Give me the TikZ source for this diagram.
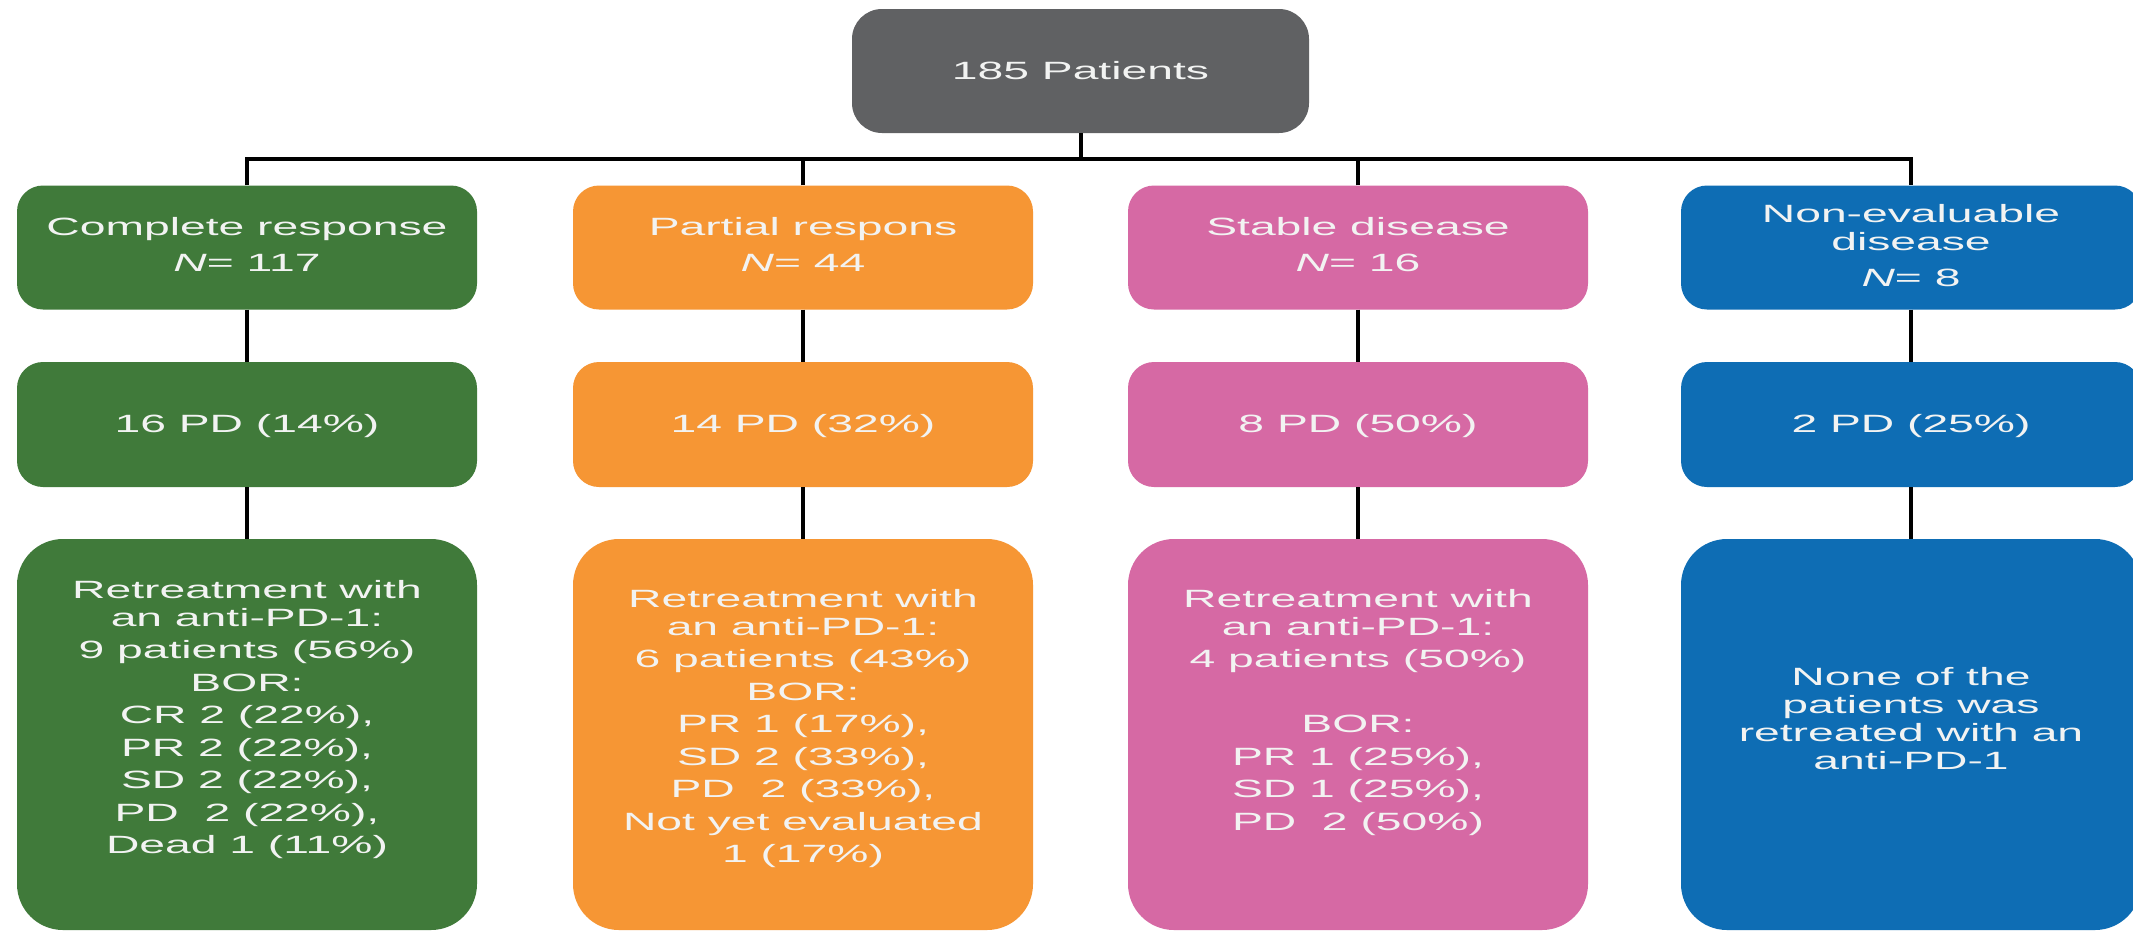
\documentclass[tikz,border=0pt]{standalone}
\usepackage{fontspec}
\setmainfont{Liberation Sans}[FakeStretch=1.85]
\definecolor{cgreen}{RGB}{64,122,58}
\definecolor{corange}{RGB}{246,150,52}
\definecolor{cpink}{RGB}{214,105,164}
\definecolor{cblue}{RGB}{14,109,180}
\definecolor{cgray}{RGB}{96,97,99}
\definecolor{ctext}{RGB}{242,243,242}
\newcommand\tst{\rule{0pt}{20pt}}
\tikzset{
  box/.style={rounded corners=26pt, minimum width=460pt, minimum height=124pt, inner sep=0pt, draw=none},
  bigbox/.style={rounded corners=46pt, minimum width=460pt, minimum height=391pt, inner sep=0pt, draw=none},
  txt/.style={anchor=north, align=center, inner sep=0pt, text=ctext, font=\fontsize{25}{28}\selectfont},
  conn/.style={line width=4pt, black, line join=miter}
}
\begin{document}
\begin{tikzpicture}[x=1pt,y=-1pt]
\fill[white] (0,0) rectangle (2133,932);
\useasboundingbox (0,0) rectangle (2133,932);

% top
\node[box, fill=cgray, minimum width=457pt, rounded corners=30pt] (top) at (1080.5,71) {};
\node[txt] (ttop) at (1080.5,59) {\tst 185 Patients};
\coordinate (bus) at (1080.5,159);

% row 1
\node[box, fill=cgreen]  (g1) at (247,247.5) {};
\node[box, fill=corange] (o1) at (803,247.5) {};
\node[box, fill=cpink]   (p1) at (1358,247.5) {};
\node[box, fill=cblue]   (b1) at (1911,247.5) {};
\node[txt] (tg1) at (247,215) {\tst Complete response\\[8.5pt]\textit{N}= 117};
\node[txt] (to1) at (803,215) {\tst Partial respons\\[8.5pt]\textit{N}= 44};
\node[txt] (tp1) at (1358,215) {\tst Stable disease\\[8.5pt]\textit{N}= 16};
\node[txt] (tb1) at (1911,202) {\tst Non-evaluable\\disease\\[8.5pt]\textit{N}= 8};

% row 2
\node[box, fill=cgreen, minimum height=125pt]  (g2) at (247,424.5) {};
\node[box, fill=corange, minimum height=125pt] (o2) at (803,424.5) {};
\node[box, fill=cpink, minimum height=125pt]   (p2) at (1358,424.5) {};
\node[box, fill=cblue, minimum height=125pt]   (b2) at (1911,424.5) {};
\node[txt] (tg2) at (247,412) {\tst 16 PD (14\%)};
\node[txt] (to2) at (803,412) {\tst 14 PD (32\%)};
\node[txt] (tp2) at (1358,412) {\tst 8 PD (50\%)};
\node[txt] (tb2) at (1911,412) {\tst 2 PD (25\%)};

% row 3
\node[bigbox, fill=cgreen]  (g3) at (247,734.5) {};
\node[bigbox, fill=corange] (o3) at (803,734.5) {};
\node[bigbox, fill=cpink]   (p3) at (1358,734.5) {};
\node[bigbox, fill=cblue]   (b3) at (1911,734.5) {};
\node[txt] (tg3) at (247,578) {\tst Retreatment with\\an anti-PD-1:\\[4.5pt]9 patients (56\%)\\[4.5pt]BOR:\\[4.5pt]CR 2 (22\%),\\[4.5pt]PR 2 (22\%),\\[4.5pt]SD 2 (22\%),\\[4.5pt]PD\ \ 2 (22\%),\\[4.5pt]Dead 1 (11\%)};
\node[txt] (to3) at (803,587) {\tst Retreatment with\\an anti-PD-1:\\[4.5pt]6 patients (43\%)\\[4.5pt]BOR:\\[4.5pt]PR 1 (17\%),\\[4.5pt]SD 2 (33\%),\\[4.5pt]PD\ \ 2 (33\%),\\[4.5pt]Not yet evaluated\\[4.5pt]1 (17\%)};
\node[txt] (tp3) at (1358,587) {\tst Retreatment with\\an anti-PD-1:\\[4.5pt]4 patients (50\%)\\[37pt]BOR:\\[4.5pt]PR 1 (25\%),\\[4.5pt]SD 1 (25\%),\\[4.5pt]PD\ \ 2 (50\%)};
\node[txt] (tb3) at (1911,665) {\tst None of the\\patients was\\retreated with an\\anti-PD-1};

% connectors
\draw[conn] (top.south) -- (bus);
\draw[conn] (g1.north) -- (g1.north |- bus) -- (b1.north |- bus) -- (b1.north);
\draw[conn] (o1.north) -- (o1.north |- bus);
\draw[conn] (p1.north) -- (p1.north |- bus);
\foreach \c in {g,o,p,b}{
  \draw[conn] (\c1.south) -- (\c2.north);
  \draw[conn] (\c2.south) -- (\c3.north);
}
\end{tikzpicture}
\end{document}
